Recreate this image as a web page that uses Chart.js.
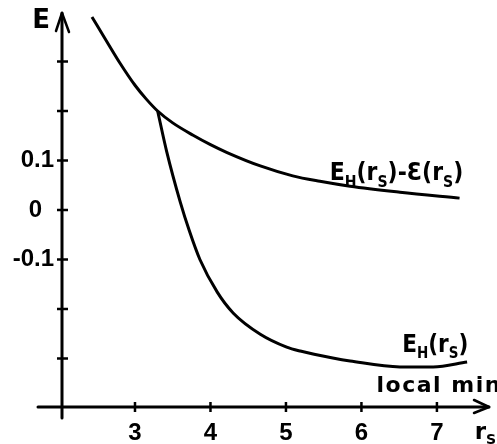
<!DOCTYPE html>
<html>
<head>
<meta charset="utf-8">
<script src="https://cdn.jsdelivr.net/npm/chart.js@4.4.1/dist/chart.umd.min.js"></script>
<style>
  html, body { margin: 0; padding: 0; background: #fff; }
</style>
</head>
<body>
<canvas id="chart" width="497" height="444"></canvas>
<script>
// upper curve : E_H(rs) - E(rs)
const diffRs = [2.43, 2.60, 2.80, 3.00, 3.15, 3.30, 3.50, 3.77, 4.00, 4.22, 4.66, 5.09, 5.45, 5.85, 6.51, 7.30];
const diffE  = [0.390, 0.347, 0.297, 0.252, 0.224, 0.200, 0.176, 0.151, 0.132, 0.116, 0.089, 0.069, 0.058, 0.048, 0.036, 0.024];

// lower curve : E_H(rs), local min branch
const ehRs = [3.30, 3.42, 3.60, 3.72, 3.86, 4.09, 4.30, 4.66, 5.01, 5.19, 5.62, 5.85, 6.51, 6.95, 7.40];
const ehE  = [0.200, 0.118, 0.016, -0.042, -0.100, -0.166, -0.208, -0.251, -0.277, -0.285, -0.299, -0.305, -0.317, -0.317, -0.307];

const xTicks = [3, 4, 5, 6, 7];
const yTicks = [-0.3, -0.2, -0.1, 0, 0.1, 0.2, 0.3];
const yLabelled = [-0.1, 0, 0.1];

const xMin = 2.033, xMax = 7.69;
const yMin = -0.398, yMax = 0.398;

const FONT = '"DejaVu Sans", sans-serif';
const NUMFONT = '"Liberation Sans", Arial, sans-serif';

const toPts = (xs, ys) => xs.map((v, i) => ({ x: v, y: ys[i] }));

// text with subscripts, parts = [[text, isSub], ...], squeezed a bit horizontally
function rich(ctx, parts, px, py, size, squeeze) {
    ctx.save();
    ctx.translate(px, py);
    ctx.scale(squeeze, 1);
    let cx = 0;
    parts.forEach(([t, sub]) => {
        ctx.font = `bold ${sub ? Math.round(size * 0.62) : size}px ${FONT}`;
        ctx.fillText(t, cx, sub ? size * 0.25 : 0);
        cx += ctx.measureText(t).width;
    });
    ctx.restore();
}

function seg(ctx, x1, y1, x2, y2) {
    ctx.beginPath();
    ctx.moveTo(x1, y1);
    ctx.lineTo(x2, y2);
    ctx.stroke();
}

const axesPlugin = {
    id: 'handAxes',
    afterDatasetsDraw(chart) {
        const { ctx } = chart;
        const x = chart.scales.x, y = chart.scales.y;
        const x0 = x.getPixelForValue(xMin);
        const y0 = y.getPixelForValue(yMin);
        const yTop = y.getPixelForValue(yMax);
        const xEnd = x.getPixelForValue(xMax);

        ctx.save();
        ctx.strokeStyle = '#000';
        ctx.fillStyle = '#000';
        ctx.lineWidth = 3;
        ctx.lineCap = 'round';
        ctx.lineJoin = 'round';

        // axes
        seg(ctx, x0, y0 + 11, x0, yTop);
        seg(ctx, x0 - 24, y0, xEnd, y0);

        // arrow heads
        ctx.lineWidth = 2.5;
        ctx.beginPath();
        ctx.moveTo(x0 - 6, yTop + 18);
        ctx.lineTo(x0, yTop);
        ctx.lineTo(x0 + 7, yTop + 19);
        ctx.stroke();
        ctx.beginPath();
        ctx.moveTo(xEnd - 15, y0 - 7);
        ctx.lineTo(xEnd, y0);
        ctx.lineTo(xEnd - 15, y0 + 6);
        ctx.stroke();

        // tick marks across the axes
        ctx.lineCap = 'butt';
        yTicks.forEach(v => {
            const py = y.getPixelForValue(v);
            seg(ctx, x0 - 5, py, x0 + 6, py);
        });
        xTicks.forEach(v => {
            const px = x.getPixelForValue(v);
            seg(ctx, px, y0 - 5, px, y0 + 5);
        });

        // labels
        ctx.textAlign = 'left';
        ctx.textBaseline = 'alphabetic';
        ctx.font = `bold 26px ${FONT}`;
        ctx.fillText('E', x.getPixelForValue(1.64), y.getPixelForValue(0.368));

        rich(ctx, [['r', false], ['S', true]], x.getPixelForValue(7.50), y.getPixelForValue(-0.462), 23, 1);

        rich(ctx, [['E', false], ['H', true], ['(r', false], ['S', true], [')-\u0190(r', false], ['S', true], [')', false]],
            x.getPixelForValue(5.58), y.getPixelForValue(0.060), 25, 0.88);

        rich(ctx, [['E', false], ['H', true], ['(r', false], ['S', true], [')', false]],
            x.getPixelForValue(6.54), y.getPixelForValue(-0.287), 24, 0.9);

        ctx.font = `bold 22px ${FONT}`;
        ctx.letterSpacing = '1.5px';
        ctx.fillText('local min', x.getPixelForValue(6.2), y.getPixelForValue(-0.368));

        ctx.restore();
    }
};

const lineStyle = {
    borderColor: '#000',
    borderWidth: 3,
    pointRadius: 0,
    fill: false,
    cubicInterpolationMode: 'monotone'
};

new Chart(document.getElementById('chart'), {
    type: 'line',
    data: {
        datasets: [
            { label: 'EH - E', data: toPts(diffRs, diffE), ...lineStyle },
            { label: 'EH', data: toPts(ehRs, ehE), ...lineStyle }
        ]
    },
    options: {
        responsive: false,
        animation: false,
        layout: { padding: { left: 0, top: 13, right: 8, bottom: 0 } },
        plugins: { legend: { display: false }, tooltip: { enabled: false } },
        scales: {
            x: {
                type: 'linear',
                min: xMin,
                max: xMax,
                grid: { display: false },
                border: { display: false },
                afterBuildTicks: s => { s.ticks = xTicks.map(v => ({ value: v })); },
                afterFit: s => { s.height = 37; s.paddingLeft = 0; s.paddingRight = 0; },
                ticks: {
                    color: '#000',
                    padding: 4,
                    maxRotation: 0,
                    font: { family: NUMFONT, size: 24, weight: 'bold' },
                    callback: v => String(v)
                }
            },
            y: {
                type: 'linear',
                min: yMin,
                max: yMax,
                grid: { display: false },
                border: { display: false },
                afterBuildTicks: s => { s.ticks = yLabelled.map(v => ({ value: v })); },
                afterFit: s => { s.width = 62; s.paddingTop = 0; s.paddingBottom = 0; },
                ticks: {
                    color: '#000',
                    padding: 0,
                    font: { family: NUMFONT, size: 24, weight: 'bold' },
                    callback: v => v === 0 ? '0\u2002' : String(v)
                }
            }
        }
    },
    plugins: [axesPlugin]
});
</script>
</body>
</html>
